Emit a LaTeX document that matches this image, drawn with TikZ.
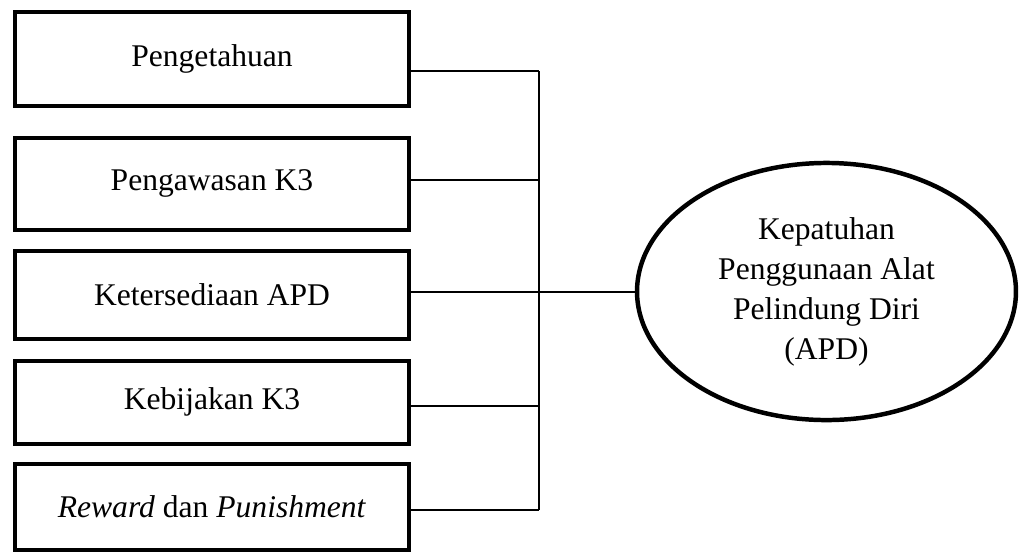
\documentclass[tikz,border=0pt]{standalone}
\usepackage{fontspec}
\setmainfont{Liberation Serif}
\usetikzlibrary{positioning, shapes.geometric}

\begin{document}
\begin{tikzpicture}[
  x=0.38pt, y=-0.38pt,
  box/.style={draw, line width=1.5pt, minimum width=150pt, align=center, font=\fontsize{12}{14}\selectfont},
  goal/.style={draw, ellipse, line width=1.7pt, minimum width=144pt, minimum height=97.7pt, align=center, font=\fontsize{12}{15.2}\selectfont},
  link/.style={line width=0.45pt}
]
\useasboundingbox (0,0) rectangle (1020,554);
\node[box, minimum height=35.7pt] (tahu) at (212,59) {Pengetahuan};
\node[box, minimum height=35pt, below=10.6pt of tahu] (awas) {Pengawasan K3};
\node[box, minimum height=33.4pt, below=6.5pt of awas] (sedia) {Ketersediaan APD};
\node[box, minimum height=31.5pt, below=6.8pt of sedia] (bijak) {Kebijakan K3};
\node[box, minimum height=32.7pt, below=6.1pt of bijak] (reward) {\textit{Reward} dan \textit{Punishment}};
\node[goal] (apd) at (826.5,291.5) {Kepatuhan\\Penggunaan Alat\\Pelindung Diri\\(APD)};
\coordinate (j1) at (539,71);
\coordinate (j2) at (539,180);
\coordinate (j3) at (539,292);
\coordinate (j4) at (539,406);
\coordinate (j5) at (539,510);
\foreach \b/\j in {tahu/j1, awas/j2, sedia/j3, bijak/j4, reward/j5}
  \draw[link] (\j -| \b.east) -- (\j);
\draw[link] (j1) -- (j5);
\draw[link] (j3) -- (j3 -| apd.west);
\end{tikzpicture}
\end{document}
